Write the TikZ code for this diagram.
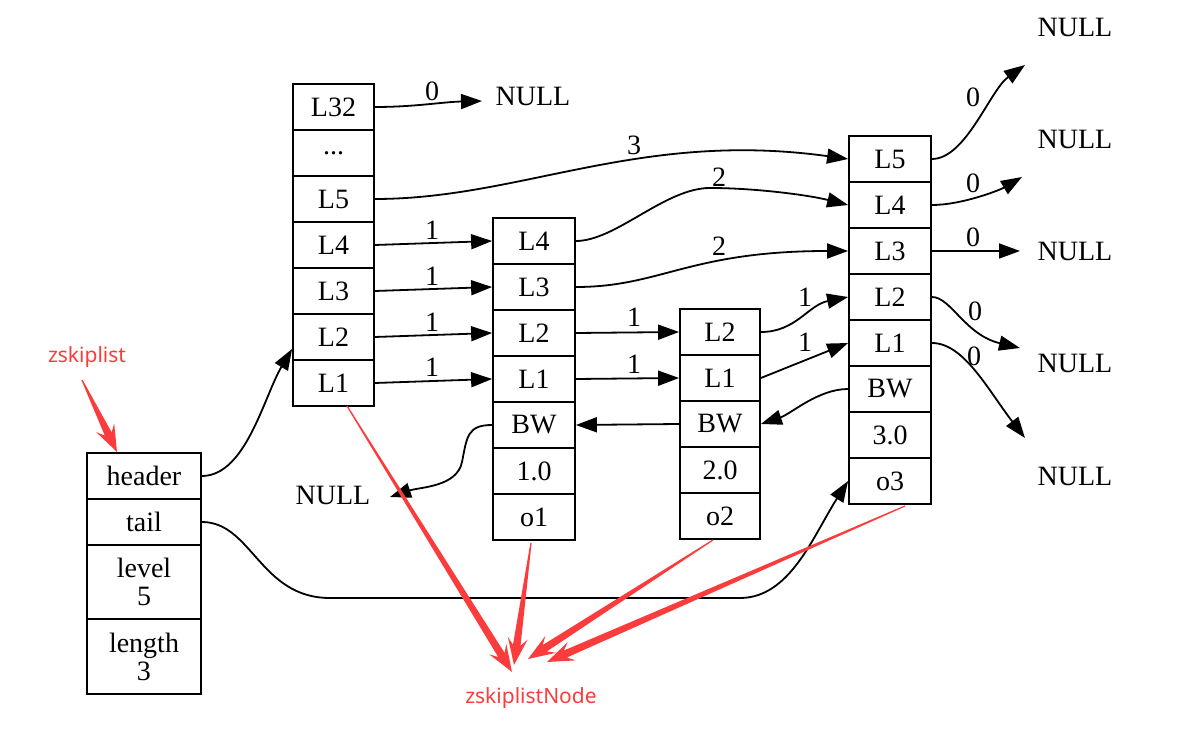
\documentclass[tikz,border=0pt]{standalone}
\usepackage{fontspec}
\setmainfont{Liberation Serif}
\newfontfamily\annfont{Noto Sans}
\usetikzlibrary{arrows.meta,calc}
\definecolor{annred}{RGB}{250,60,60}
\newcommand\annarrow[2]{%
  \coordinate (aB) at ($(#2)!10pt!(#1)$);
  \coordinate (aC) at ($(#2)!13.5pt!(#1)$);
  \fill[annred] ($(#1)!0.3pt!90:(#2)$) -- ($(aB)!1.9pt!-90:(#1)$) -- ($(aC)!5pt!-90:(#1)$) -- (#2)
    -- ($(aC)!5pt!90:(#1)$) -- ($(aB)!1.9pt!90:(#1)$) -- ($(#1)!0.3pt!-90:(#2)$) -- cycle;}
\begin{document}
\begin{tikzpicture}[x=0.5pt,y=-0.5pt,
  txt/.style={font=\fontsize{14}{14}\selectfont},
  cell/.style={txt, draw, line width=0.9pt, inner sep=0pt, minimum height=23pt, align=center},
  hcell/.style={cell, minimum width=40.5pt},
  acell/.style={cell, minimum width=41pt},
  bcell/.style={cell, minimum width=40pt},
  ccell/.style={cell, minimum width=41pt},
  zcell/.style={cell, minimum width=57pt},
  lbl/.style={txt, inner sep=0pt},
  nul/.style={txt, inner sep=0pt},
  edge/.style={line width=0.9pt, -{Triangle[length=10.5pt,width=7.5pt]}},
  anntext/.style={text=annred, font=\annfont\fontsize{10.5}{12}\selectfont, inner sep=0pt}]
\useasboundingbox (0,0) rectangle (1185,737);
% zskiplist
\node[zcell] (zh) at (144,476) {header};
\node[zcell] (zt) at (144,522) {tail};
\node[zcell, minimum height=37pt] (zl) at (144,582) {level\\5};
\node[zcell, minimum height=37.5pt] (zn) at (144,656.5) {length\\3};
% header node
\node[hcell] (h32) at (333.5,107) {L32};
\node[hcell] (hd) at (333.5,153) {...};
\node[hcell] (h5) at (333.5,199) {L5};
\node[hcell] (h4) at (333.5,245) {L4};
\node[hcell] (h3) at (333.5,291) {L3};
\node[hcell] (h2) at (333.5,337) {L2};
\node[hcell] (h1) at (333.5,383) {L1};
% node o1
\node[acell] (aL4) at (534,241) {L4};
\node[acell] (aL3) at (534,287) {L3};
\node[acell] (aL2) at (534,333) {L2};
\node[acell] (aL1) at (534,379) {L1};
\node[acell] (aBW) at (534,425) {BW};
\node[acell] (aSc) at (534,471) {1.0};
\node[acell] (aOb) at (534,517) {o1};
% node o2
\node[bcell] (bL2) at (720,332) {L2};
\node[bcell] (bL1) at (720,378) {L1};
\node[bcell] (bBW) at (720,424) {BW};
\node[bcell] (bSc) at (720,470) {2.0};
\node[bcell] (bOb) at (720,516) {o2};
% node o3
\node[ccell] (cL5) at (890,159) {L5};
\node[ccell] (cL4) at (890,205) {L4};
\node[ccell] (cL3) at (890,251) {L3};
\node[ccell] (cL2) at (890,297) {L2};
\node[ccell] (cL1) at (890,343) {L1};
\node[ccell] (cBW) at (890,389) {BW};
\node[ccell] (cSc) at (890,435) {3.0};
\node[ccell] (cOb) at (890,481) {o3};
% NULLs
\node[nul] (nA) at (533,96) {NULL};
\node[nul] (nL) at (333,495) {NULL};
\node[nul] (n1) at (1075,27) {NULL};
\node[nul] (n2) at (1075,139) {NULL};
\node[nul] (n3) at (1075,251) {NULL};
\node[nul] (n4) at (1075,363) {NULL};
\node[nul] (n5) at (1075,476) {NULL};
\coordinate (tA) at (482,101);
\coordinate (tL) at (390,497);
\coordinate (t5) at (1025,65);
\coordinate (t4) at (1022,177);
\coordinate (t3) at (1020,251);
\coordinate (t2) at (1020,348);
\coordinate (t1) at (1025,438);
% edges
\draw[edge] (zh.east) .. controls +(44,0) and +(-28,47) .. ($(h2.west)!0.5!(h2.south west)$);
\draw[edge] (h32.east) .. controls +(40,0) and +(-40,1) .. (tA);
\draw[edge] (h5.east) .. controls +(146,0) and +(-209,-29) .. (cL5.west);
\draw[edge] (h4.east) -- (aL4.west);
\draw[edge] (h3.east) -- (aL3.west);
\draw[edge] (h2.east) -- (aL2.west);
\draw[edge] (h1.east) -- (aL1.west);
\draw[edge] (aL4.east) .. controls +(40,0) and +(-45,0) .. (710,188) .. controls +(45,0) and +(-40,-10) .. (cL4.west);
\draw[edge] (aL3.east) .. controls +(85,0) and +(-159,0) .. (cL3.west);
\draw[edge] (aL2.east) -- (bL2.west);
\draw[edge] (aL1.east) -- (bL1.west);
\draw[edge] (bL2.east) .. controls +(35,0) and +(-40,8) .. (cL2.west);
\draw[edge] (bL1.east) -- (cL1.west);
\draw[edge] (cBW.west) .. controls +(-30,0) and +(30,-10) .. (bBW.east);
\draw[edge] (bBW.west) -- (aBW.east);
\draw[edge] (aBW.west) .. controls +(-25,0) and +(5,-25) .. (462,462) .. controls +(-5,25) and +(30,-10) .. (tL);
\draw[edge] (cL5.east) .. controls +(34,0) and +(-35,25) .. (t5);
\draw[edge] (cL4.east) .. controls +(30,0) and +(-22,13) .. (t4);
\draw[edge] (cL3.east) -- (t3);
\draw[edge] (cL2.east) .. controls +(19,0) and +(-55,-13) .. (t2);
\draw[edge] (cL1.east) .. controls +(32,0) and +(-37,-48) .. (t1);
\draw[edge] (zt.east) .. controls +(50,0) and +(-70,0) .. (330,598) -- (740,598) .. controls +(50,0) and +(-35,55) .. (cOb.west);
% edge labels
\node[lbl] at (432,91) {0};
\node[lbl] at (634,145) {3};
\node[lbl] at (432,230) {1};
\node[lbl] at (432,276) {1};
\node[lbl] at (432,322) {1};
\node[lbl] at (432,367) {1};
\node[lbl] at (719,177) {2};
\node[lbl] at (719,246) {2};
\node[lbl] at (634,317) {1};
\node[lbl] at (634,364) {1};
\node[lbl] at (805,297) {1};
\node[lbl] at (805,342) {1};
\node[lbl] at (973,97) {0};
\node[lbl] at (973,183) {0};
\node[lbl] at (973,237) {0};
\node[lbl] at (975,311) {0};
\node[lbl] at (974,356) {0};
% annotations
\node[anntext] (zsl) at (87,357) {zskiplist};
\node[anntext] (zsn) at (531,698) {zskiplistNode};
\coordinate (s0) at (82,380);
\coordinate (e0) at (117,452);
\coordinate (s1) at (347,406);
\coordinate (e1) at (512,672);
\coordinate (s2) at (531,543);
\coordinate (e2) at (514,665);
\coordinate (s3) at (713,540);
\coordinate (e3) at (528,659);
\coordinate (s4) at (905,506);
\coordinate (e4) at (547,662);
\annarrow{s0}{e0}
\annarrow{s1}{e1}
\annarrow{s2}{e2}
\annarrow{s3}{e3}
\annarrow{s4}{e4}
\end{tikzpicture}
\end{document}
